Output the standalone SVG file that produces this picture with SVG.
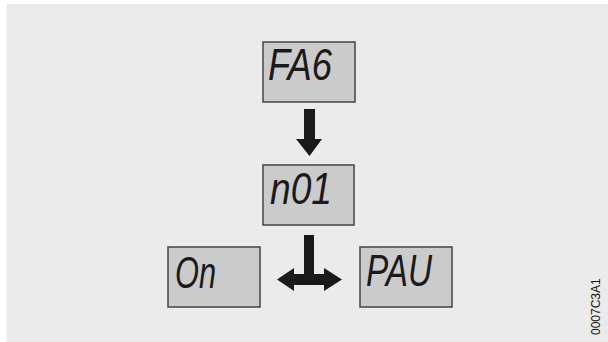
<svg xmlns="http://www.w3.org/2000/svg" width="608" height="342" viewBox="0 0 608 342">
<style>
.box{fill:#cbcbcb;stroke:#444;stroke-width:1.5}
.lcd{font-family:"Liberation Sans",Arial,sans-serif;font-style:italic;font-size:44px;fill:#1a1a1a}
.arrow{fill:#1a1a1a}
.code{font-family:"Liberation Sans",Arial,sans-serif;font-size:12px;fill:#111}
</style>
<rect x="0" y="0" width="608" height="342" fill="#ffffff"/>
<rect x="6.500" y="4" width="601.500" height="338" fill="#ebebeb"/>
<g id="node-fa6">
<rect class="box" x="263" y="42" width="92" height="60"/>
<text class="lcd" x="268" y="80" textLength="64" lengthAdjust="spacingAndGlyphs">FA6</text>
</g>
<g id="node-n01">
<rect class="box" x="263" y="165" width="91" height="60"/>
<text class="lcd" x="270" y="204" textLength="62" lengthAdjust="spacingAndGlyphs">n01</text>
</g>
<g id="node-on">
<rect class="box" x="168" y="247" width="92" height="60"/>
<text class="lcd" x="175" y="288" textLength="41" lengthAdjust="spacingAndGlyphs">On</text>
</g>
<g id="node-pau">
<rect class="box" x="360" y="247" width="92" height="60"/>
<text class="lcd" x="366" y="286" textLength="66" lengthAdjust="spacingAndGlyphs">PAU</text>
</g>
<g id="connectors">
<path class="arrow" d="M304,109 H315 V139 H322 L309.500,156 L296,139 H304 Z"/>
<path class="arrow" d="M304,235 H314 V274 H324 V268 L342,279.500 L324,291 V285 H294 V291 L277,279.500 L294,268 V274 H304 Z"/>
</g>
<text class="code" transform="translate(599.500,335) rotate(-90)">0007C3A1</text>
</svg>
